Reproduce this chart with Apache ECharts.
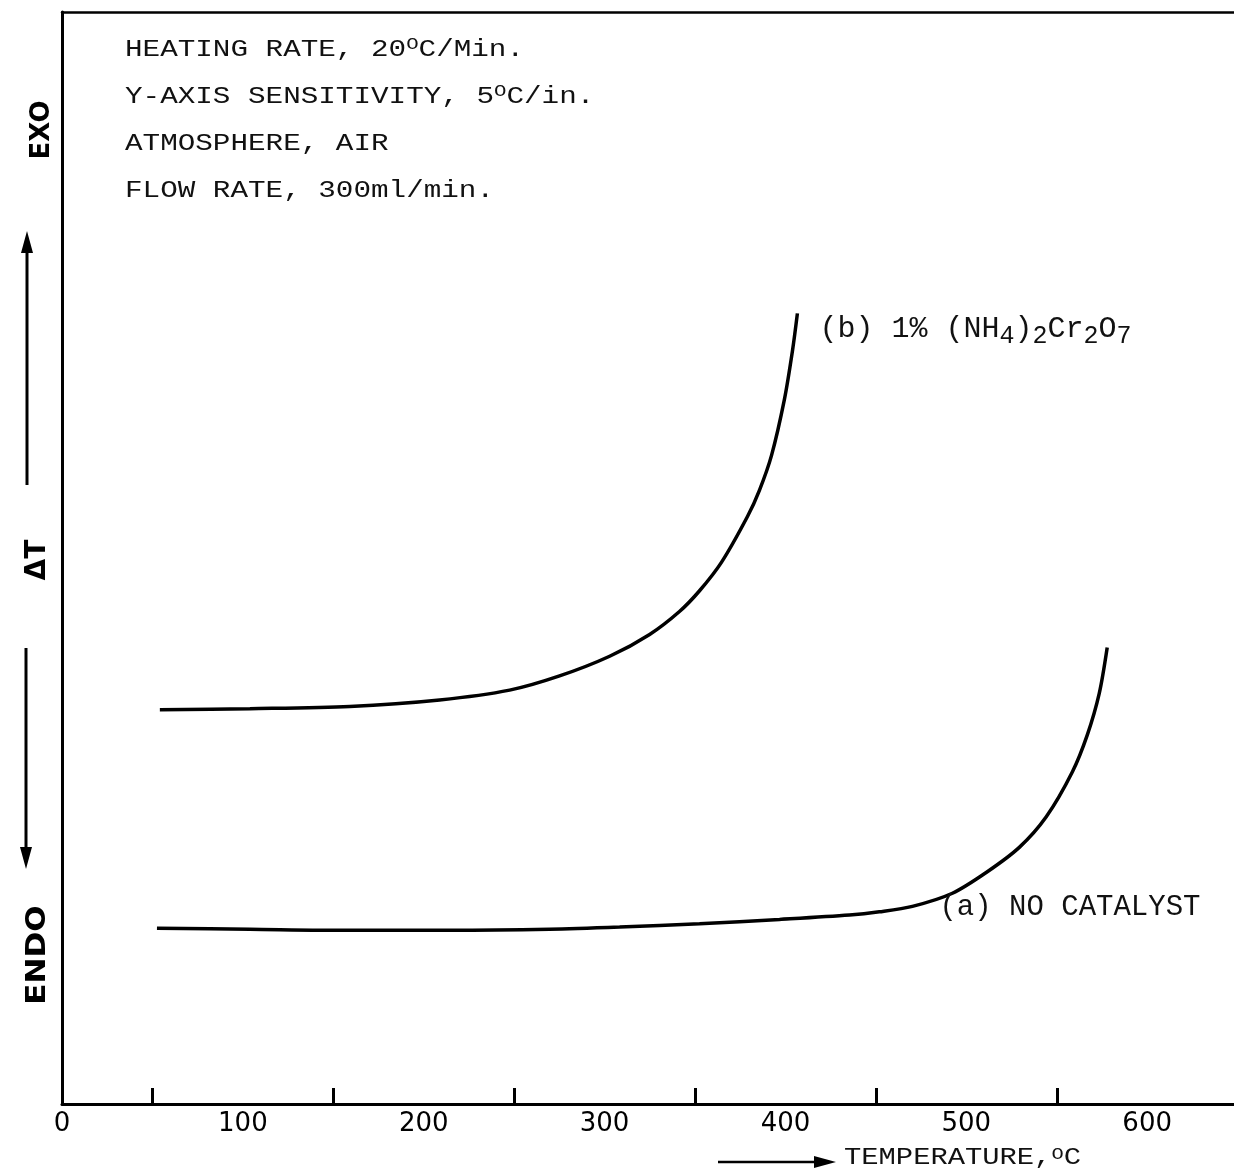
<!DOCTYPE html>
<html>
<head>
<meta charset="utf-8">
<title>DTA curves</title>
<script src="https://cdn.jsdelivr.net/npm/echarts@6/dist/echarts.min.js"></script>
<style>
  html, body { margin: 0; padding: 0; background: #fff; }
  #chart { width: 1234px; height: 1171px; }
</style>
</head>
<body>
<div id="chart"></div>
<script>
// Curve (a): no catalyst — temperature (°C) and ΔT (arbitrary units, 0–100 over the frame)
const tempA = [52.5, 103.9, 159.1, 214.4, 269.6, 308.3, 352.5, 396.7, 435.4, 451.9, 470.2, 492.3, 511.0, 529.3, 544.2, 558.6, 566.9, 573.5, 577.9];
const dtA   = [16.1, 16.0, 15.9, 15.9, 16.0, 16.2, 16.5, 16.9, 17.3, 17.6, 18.1, 19.3, 21.2, 23.5, 26.3, 30.4, 33.8, 37.6, 41.8];

// Curve (b): 1% ammonium dichromate
const tempB = [54.1, 103.9, 159.1, 208.8, 247.5, 275.1, 302.8, 324.9, 341.4, 352.5, 364.6, 379.0, 385.6, 392.3, 399.4, 403.9, 406.6];
const dtB   = [36.1, 36.2, 36.4, 37.0, 37.9, 39.2, 41.0, 43.0, 45.1, 47.0, 49.6, 53.8, 56.2, 59.4, 64.5, 69.0, 72.4];

// Temperature axis: labelled hundreds, tick marks at the fifties
const tempLabels = [0, 100, 200, 300, 400, 500, 600];
const tempTicks  = [50, 150, 250, 350, 450, 550];

// Run conditions printed in the upper-left corner
const conditions = [
  'HEATING RATE, 20{s|O}C/Min.',
  'Y-AXIS SENSITIVITY, 5{s|O}C/in.',
  'ATMOSPHERE, AIR',
  'FLOW RATE, 300ml/min.'
];

const MONO = 'Liberation Mono';
const HAND = 'DejaVu Sans';

const seriesA = tempA.map((t, i) => {
  const item = { value: [t, dtA[i]] };
  if (i === 10) {
    item.label = {
      show: true, position: 'right', distance: 27, offset: [0, 1],
      formatter: '(a) NO CATALYST',
      fontFamily: MONO, fontSize: 29, color: '#111'
    };
  }
  return item;
});

const seriesB = tempB.map((t, i) => {
  const item = { value: [t, dtB[i]] };
  if (i === tempB.length - 1) {
    item.label = {
      show: true, position: 'right', distance: 22, offset: [0, 16],
      formatter: '(b) 1% (NH{d|4}){d|2}Cr{d|2}O{d|7}',
      fontFamily: MONO, fontSize: 30, lineHeight: 38, color: '#111',
      rich: {
        d: { fontFamily: MONO, fontSize: 25, lineHeight: 25, verticalAlign: 'bottom', padding: [7, 0, 0, 0], color: '#111' }
      }
    };
  }
  return item;
});

const conditionText = {
  type: 'text', x: 125, y: 26, scaleX: 1.22,
  style: {
    text: conditions.join('\n'),
    fontFamily: MONO, fontSize: 24, lineHeight: 47, fill: '#111',
    align: 'left', verticalAlign: 'top',
    rich: {
      s: { fontFamily: MONO, fontSize: 17, verticalAlign: 'top', padding: [10, 0, 0, 0], fill: '#111' }
    }
  }
};

const chart = echarts.init(document.getElementById('chart'), null, { renderer: 'canvas' });

chart.setOption({
  backgroundColor: '#fff',
  animation: false,
  grid: { left: 62, right: 0, top: 12, bottom: 67, containLabel: false },
  xAxis: [
    {
      type: 'value', min: 0, max: 648, position: 'bottom',
      splitLine: { show: false },
      axisLine: { show: true, lineStyle: { color: '#000', width: 3 } },
      axisTick: {
        show: true, inside: true, length: 16, customValues: tempTicks,
        lineStyle: { color: '#000', width: 3 }
      },
      axisLabel: {
        show: true, customValues: tempLabels, margin: 7,
        fontFamily: HAND, fontSize: 26, color: '#000'
      }
    },
    {
      type: 'value', min: 0, max: 648, position: 'top',
      splitLine: { show: false },
      axisLine: { show: true, lineStyle: { color: '#000', width: 2.5 } },
      axisTick: { show: false },
      axisLabel: { show: false }
    }
  ],
  yAxis: {
    type: 'value', min: 0, max: 100,
    splitLine: { show: false },
    axisLine: { show: true, lineStyle: { color: '#000', width: 3 } },
    axisTick: { show: false },
    axisLabel: { show: false }
  },
  series: [
    {
      name: '(a) NO CATALYST', type: 'line', data: seriesA,
      smooth: 0.3, showSymbol: true, symbol: 'circle', symbolSize: 0,
      itemStyle: { color: '#000' },
      lineStyle: { color: '#000', width: 3.5 }
    },
    {
      name: '(b) 1% (NH4)2Cr2O7', type: 'line', data: seriesB,
      smooth: 0.3, showSymbol: true, symbol: 'circle', symbolSize: 0,
      itemStyle: { color: '#000' },
      lineStyle: { color: '#000', width: 3.5 }
    }
  ],
  graphic: [
    conditionText,
    // EXO / ΔT / ENDO legend along the left edge
    { type: 'text', x: 42, y: 130, rotation: Math.PI / 2,
      style: { text: 'EXO', fontFamily: HAND, fontWeight: 'bold', fontSize: 26, fill: '#000', align: 'center', verticalAlign: 'middle' } },
    { type: 'text', x: 38, y: 560, rotation: Math.PI / 2,
      style: { text: '\u0394T', fontFamily: HAND, fontWeight: 'bold', fontSize: 28, fill: '#000', align: 'center', verticalAlign: 'middle' } },
    { type: 'text', x: 38, y: 955, rotation: Math.PI / 2, scaleX: 1.15,
      style: { text: 'ENDO', fontFamily: HAND, fontWeight: 'bold', fontSize: 27, fill: '#000', align: 'center', verticalAlign: 'middle' } },
    // up arrow (exothermic)
    { type: 'line', shape: { x1: 27, y1: 485, x2: 27, y2: 248 }, style: { stroke: '#000', lineWidth: 3 } },
    { type: 'polygon', shape: { points: [[27, 231], [21, 253], [33, 253]] }, style: { fill: '#000' } },
    // down arrow (endothermic)
    { type: 'line', shape: { x1: 26, y1: 648, x2: 26, y2: 852 }, style: { stroke: '#000', lineWidth: 3 } },
    { type: 'polygon', shape: { points: [[26, 869], [20, 847], [32, 847]] }, style: { fill: '#000' } },
    // temperature axis title with arrow
    { type: 'line', shape: { x1: 718, y1: 1162, x2: 818, y2: 1162 }, style: { stroke: '#000', lineWidth: 2.5 } },
    { type: 'polygon', shape: { points: [[836, 1162], [814, 1156], [814, 1168]] }, style: { fill: '#000' } },
    { type: 'text', x: 844, y: 1158, scaleX: 1.2,
      style: {
        text: 'TEMPERATURE,{s|O}C', fontFamily: MONO, fontSize: 24, lineHeight: 30, fill: '#111',
        verticalAlign: 'middle', align: 'left',
        rich: { s: { fontFamily: MONO, fontSize: 17, verticalAlign: 'top', padding: [3, 0, 0, 0], fill: '#111' } }
      } }
  ]
});
</script>
</body>
</html>
